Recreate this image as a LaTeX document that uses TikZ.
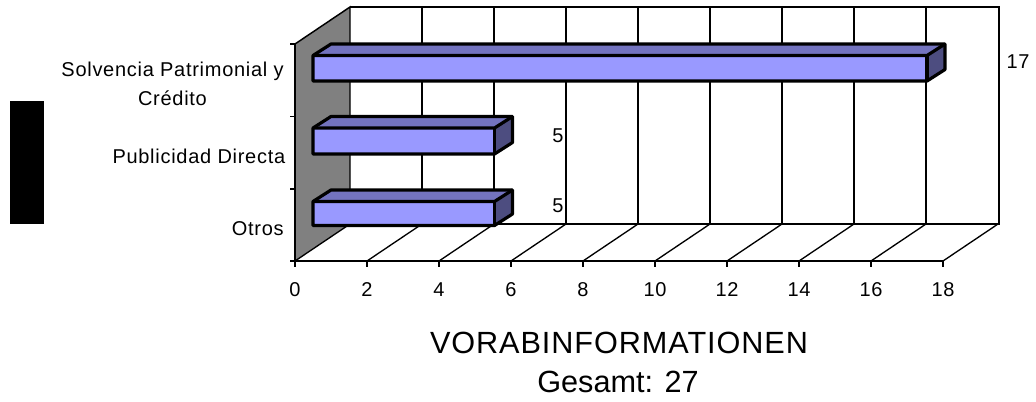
\documentclass[tikz,border=0pt]{standalone}
\usepackage{fontspec}
\setmainfont{Liberation Sans}
\newfontfamily\labfont[LetterSpace=3.6]{Liberation Sans}
\newfontfamily\titlefont[LetterSpace=3]{Liberation Sans}
\usetikzlibrary{calc}
\definecolor{barfront}{HTML}{9999FF}
\definecolor{bartop}{HTML}{7373BF}
\definecolor{barside}{HTML}{4D4D80}
\definecolor{wallgray}{HTML}{808080}
\tikzset{
  gridline/.style={draw=black,line width=1pt},
  axisline/.style={draw=black,line width=1.1pt},
  barline/.style={draw=black,line width=2.4pt,line join=round},
  lab/.style={font=\labfont\fontsize{15}{17}\selectfont,inner sep=0pt,text=black,anchor=base},
  titletext/.style={font=\titlefont\fontsize{23}{26}\selectfont,inner sep=0pt,text=black,anchor=base},
  subtitletext/.style={font=\fontsize{23}{26}\selectfont,inner sep=0pt,text=black,anchor=base},
}
\newcommand{\drawbar}[3]{% x-right, y-top-front, y-bottom-front
  \fill[bartop] (313,#2) -- (331,#2-11.5) -- (#1+18,#2-11.5) -- (#1,#2) -- cycle;
  \fill[barside] (#1,#2) -- (#1+18,#2-11.5) -- (#1+18,#3-11.5) -- (#1,#3) -- cycle;
  \fill[barfront] (313,#2) rectangle (#1,#3);
  \draw[barline] (313,#2) -- (331,#2-11.5) -- (#1+18,#2-11.5) -- (#1+18,#3-11.5) -- (#1,#3) -- (313,#3) -- cycle;
  \draw[barline] (313,#2) -- (#1,#2) -- (#1+18,#2-11.5);
  \draw[barline] (#1,#2) -- (#1,#3);
}
\begin{document}
\begin{tikzpicture}[x=0.75pt,y=-0.75pt]
\useasboundingbox (0,0) rectangle (1036,401);
\fill[white] (0,0) rectangle (1036,401);
\fill[black] (10,101) rectangle (44,224);
% wall
\fill[wallgray] (295,44) -- (350,7) -- (350,224) -- (295,261) -- cycle;
\draw[axisline] (295,44) -- (350,7) -- (350,224);
% back grid
\draw[gridline] (350,7) -- (999,7) -- (999,224) -- (350,224);
\foreach \k in {1,...,8} \draw[gridline] ({350+72*\k},7) -- ({350+72*\k},224);
% floor
\foreach \k in {0,...,9} \draw[gridline] ({295+72*\k},261) -- ({350+72*\k},224);
\draw[axisline] (295,44) -- (295,261) -- (943,261);
% ticks
\foreach \y in {44,116.5,189,261} \draw[axisline] (290,\y) -- (295,\y);
\foreach \k in {0,...,9} \draw[axisline] ({295+72*\k},261) -- ({295+72*\k},267);
% bars
\drawbar{927}{55.5}{81}
\drawbar{494.5}{128}{154}
\drawbar{494.5}{201.5}{225.5}
% labels
\foreach \k/\t in {0/0,1/2,2/4,3/6,4/8,5/10,6/12,7/14,8/16,9/18}
  \node[lab] (x\k) at ({295+72*\k},296.5) {\t};
\node[lab,anchor=base east] (c1) at (284,76.5) {Solvencia Patrimonial y};
\node[lab] (c1b) at (172.5,105) {Crédito};
\node[lab,anchor=base east] (c2) at (285.5,163) {Publicidad Directa};
\node[lab,anchor=base east] (c3) at (284,235) {Otros};
\node[lab] (v1) at (1018,68) {17};
\node[lab] (v2) at (558,142.5) {5};
\node[lab] (v3) at (558,212) {5};
\node[titletext] (t1) at (619,353) {VORABINFORMATIONEN};
\node[subtitletext] (t2) at (618,392) {Gesamt: 27};
\end{tikzpicture}
\end{document}
